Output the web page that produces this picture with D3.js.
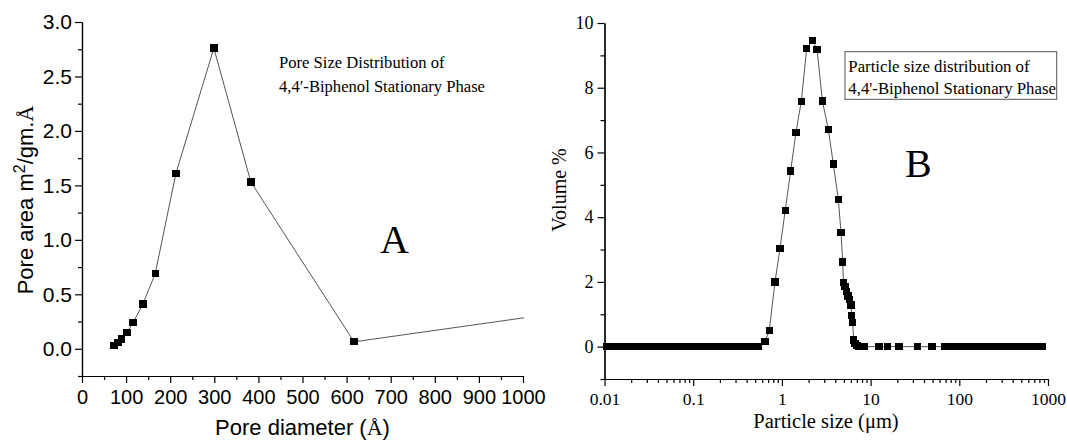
<!DOCTYPE html>
<html><head><meta charset="utf-8">
<script src="https://cdn.jsdelivr.net/npm/d3@7"></script>
<style>body{margin:0;background:#fff}svg{display:block}</style>
</head><body>
<svg id="c" width="1067" height="445"></svg>
<script>
// ---- Panel A data: pore size distribution ----
const poreDiameter = [73, 82, 90, 102, 116, 138, 166, 213, 299, 383, 617, 1100];
const poreArea     = [0.03, 0.06, 0.09, 0.15, 0.24, 0.41, 0.69, 1.61, 2.76, 1.53, 0.064, 0.34];
const xTicksA = [0, 100, 200, 300, 400, 500, 600, 700, 800, 900, 1000];
const yTicksA = [0.0, 0.5, 1.0, 1.5, 2.0, 2.5, 3.0];

// ---- Panel B data: particle size distribution ----
const particleSize = [
  0.0105, 0.0113, 0.0130, 0.0149, 0.0171, 0.0196, 0.0225, 0.0259, 0.0297, 0.0341,
  0.0392, 0.0450, 0.0516, 0.0593, 0.0680, 0.0781, 0.0897, 0.103, 0.118, 0.136,
  0.156, 0.179, 0.205, 0.236, 0.271, 0.311, 0.357, 0.41, 0.47, 0.54,
  0.644, 0.72, 0.836, 0.953, 1.09, 1.256, 1.44, 1.655, 1.905, 2.20,
  2.49, 2.86, 3.34, 3.80, 4.33, 4.64, 4.85, 4.94, 5.14, 5.35,
  5.56, 5.78, 6.01, 6.12, 6.28, 6.45, 6.67, 7.0, 7.4, 7.9,
  8.5, 12.5, 15.4, 20.9, 34, 49.2,
  69, 79.2, 90.9, 104, 120, 138, 158, 181, 208, 239,
  274, 315, 361, 415, 476, 547, 628, 721, 828, 860
];
const volumePct = [
  0, 0, 0, 0, 0, 0, 0, 0, 0, 0,
  0, 0, 0, 0, 0, 0, 0, 0, 0, 0,
  0, 0, 0, 0, 0, 0, 0, 0, 0, 0,
  0.15, 0.49, 2.0, 3.04, 4.21, 5.43, 6.62, 7.58, 9.22, 9.46,
  9.19, 7.59, 6.71, 5.64, 4.55, 3.52, 2.61, 1.98, 1.85, 1.70,
  1.57, 1.45, 1.29, 0.97, 0.74, 0.2, 0.1, 0.04, 0.01, 0,
  0, 0, 0, 0, 0, 0,
  0, 0, 0, 0, 0, 0, 0, 0, 0, 0,
  0, 0, 0, 0, 0, 0, 0, 0, 0, 0
];
const xTicksB = [0.01, 0.1, 1, 10, 100, 1000];
const xTickLabelsB = ["0.01", "0.1", "1", "10", "100", "1000"];
const yTicksB = [0, 2, 4, 6, 8, 10];

const SANS = "'Liberation Sans', Arial, sans-serif";
const SERIF = "'Liberation Serif', 'Times New Roman', serif";
const LINE = "#555";
const MS = 7.4;

const svg = d3.select("#c");
svg.append("rect").attr("width",1067).attr("height",445).attr("fill","#fff");

function styleAxis(g, font, size) {
  g.selectAll("path.domain").attr("stroke","#000").attr("stroke-width",1.2);
  g.selectAll(".tick line").attr("stroke","#000").attr("stroke-width",1.2);
  g.selectAll("text").attr("font-family",font).attr("font-size",size).attr("fill","#000");
}

// ================= Panel A =================
const xA = d3.scaleLinear().domain([0,1000]).range([82,523]);
const yA = d3.scaleLinear().domain([-0.25,3]).range([376,22]);

svg.append("g").attr("transform","translate(0,376)")
  .call(d3.axisBottom(xA).tickValues(d3.range(50,1000,100)).tickSize(4).tickFormat("").tickSizeOuter(0))
  .call(g=>styleAxis(g,SANS,20));
svg.append("g").attr("transform","translate(82,0)")
  .call(d3.axisLeft(yA).tickValues([-0.25,0.25,0.75,1.25,1.75,2.25,2.75]).tickSize(4).tickFormat("").tickSizeOuter(0))
  .call(g=>styleAxis(g,SANS,20));
svg.append("g").attr("transform","translate(0,376)")
  .call(d3.axisBottom(xA).tickValues(xTicksA).tickSize(7).tickPadding(7).tickSizeOuter(0).tickFormat(d3.format("d")))
  .call(g=>styleAxis(g,SANS,20));
svg.append("g").attr("transform","translate(82,0)")
  .call(d3.axisLeft(yA).tickValues(yTicksA).tickSize(7).tickPadding(3).tickSizeOuter(0).tickFormat(d3.format(".1f")))
  .call(g=>styleAxis(g,SANS,21));

svg.append("clipPath").attr("id","clipA").append("rect")
  .attr("x",xA(0)).attr("y",yA(3)-10).attr("width",xA(1000)-xA(0)+1).attr("height",yA(-0.25)-yA(3)+10);

const dataA = poreDiameter.map((d,i)=>({x:d,y:poreArea[i]}));
const gA = svg.append("g").attr("clip-path","url(#clipA)");
gA.append("path").datum(dataA)
  .attr("d", d3.line().x(d=>xA(d.x)).y(d=>yA(d.y)))
  .attr("fill","none").attr("stroke",LINE).attr("stroke-width",1);
gA.selectAll("rect.m").data(dataA).join("rect")
  .attr("x",d=>xA(d.x)-MS/2).attr("y",d=>yA(d.y)-MS/2).attr("width",MS).attr("height",MS)
  .attr("fill","#000").attr("shape-rendering","crispEdges");

svg.append("text").attr("x",302.5).attr("y",435).attr("text-anchor","middle")
  .attr("font-family",SANS).attr("font-size",22)
  .call(t=>{t.append("tspan").text("Pore diameter (");
            t.append("tspan").attr("font-family",SERIF).text("Å");
            t.append("tspan").text(")");});
svg.append("text").attr("transform","translate(33,200) rotate(-90)").attr("text-anchor","middle")
  .attr("font-family",SANS).attr("font-size",22)
  .call(t=>{t.append("tspan").text("Pore area m");
            t.append("tspan").attr("font-size",16).attr("dy",-8).text("2");
            t.append("tspan").attr("dy",8).text("/gm.");
            t.append("tspan").attr("font-family",SERIF).text("Å");});
svg.append("text").attr("x",279).attr("y",68).attr("font-family",SERIF).attr("font-size",16.6).text("Pore Size Distribution of");
svg.append("text").attr("x",279).attr("y",92).attr("font-family",SERIF).attr("font-size",16.6).text("4,4′-Biphenol Stationary Phase");
svg.append("text").attr("x",380).attr("y",253).attr("font-family",SERIF).attr("font-size",40).text("A");

// ================= Panel B =================
const xB = d3.scaleLog().domain([0.01,1000]).range([604.5,1048]);
const yB = d3.scaleLinear().domain([-1,10]).range([379,23]);

const minorB = [];
[0.01,0.1,1,10,100].forEach(dec=>{ for(let k=2;k<=9;k++) minorB.push(dec*k); });
svg.append("g").attr("transform","translate(0,379)")
  .call(d3.axisBottom(xB).tickValues(minorB).tickSize(4).tickFormat("").tickSizeOuter(0))
  .call(g=>styleAxis(g,SERIF,17));
svg.append("g").attr("transform","translate(604.5,0)")
  .call(d3.axisLeft(yB).tickValues([-1,1,3,5,7,9]).tickSize(4).tickFormat("").tickSizeOuter(0))
  .call(g=>styleAxis(g,SERIF,17));
svg.append("g").attr("transform","translate(0,379)")
  .call(d3.axisBottom(xB).tickValues(xTicksB).tickSize(7).tickPadding(7).tickSizeOuter(0)
        .tickFormat((d,i)=>xTickLabelsB[i]))
  .call(g=>styleAxis(g,SERIF,17.5));
svg.append("g").attr("transform","translate(604.5,0)")
  .call(d3.axisLeft(yB).tickValues(yTicksB).tickSize(7).tickPadding(4).tickSizeOuter(0).tickFormat(d3.format("d")))
  .call(g=>styleAxis(g,SERIF,18));

const dataB = particleSize.map((d,i)=>({x:d,y:volumePct[i]}));
const gB = svg.append("g");
gB.append("path").datum(dataB)
  .attr("d", d3.line().x(d=>xB(d.x)).y(d=>yB(d.y)))
  .attr("fill","none").attr("stroke",LINE).attr("stroke-width",1);
gB.selectAll("rect.m").data(dataB).join("rect")
  .attr("x",d=>xB(d.x)-MS/2).attr("y",d=>yB(d.y)-MS/2).attr("width",MS).attr("height",MS)
  .attr("fill","#000").attr("shape-rendering","crispEdges");

svg.append("text").attr("x",826).attr("y",428).attr("text-anchor","middle")
  .attr("font-family",SERIF).attr("font-size",20.5).text("Particle size (μm)");
svg.append("text").attr("transform","translate(566,190) rotate(-90)").attr("text-anchor","middle")
  .attr("font-family",SERIF).attr("font-size",20).text("Volume %");
svg.append("rect").attr("x",845).attr("y",51.7).attr("width",211.7).attr("height",47.6)
  .attr("fill","#fff").attr("stroke","#555").attr("stroke-width",1);
svg.append("text").attr("x",848.3).attr("y",71.7).attr("font-family",SERIF).attr("font-size",16.8).text("Particle size distribution of");
svg.append("text").attr("x",848.3).attr("y",94).attr("font-family",SERIF).attr("font-size",16.8).text("4,4'-Biphenol Stationary Phase");
svg.append("text").attr("x",905).attr("y",176.7).attr("font-family",SERIF).attr("font-size",40).text("B");
</script>
</body></html>
